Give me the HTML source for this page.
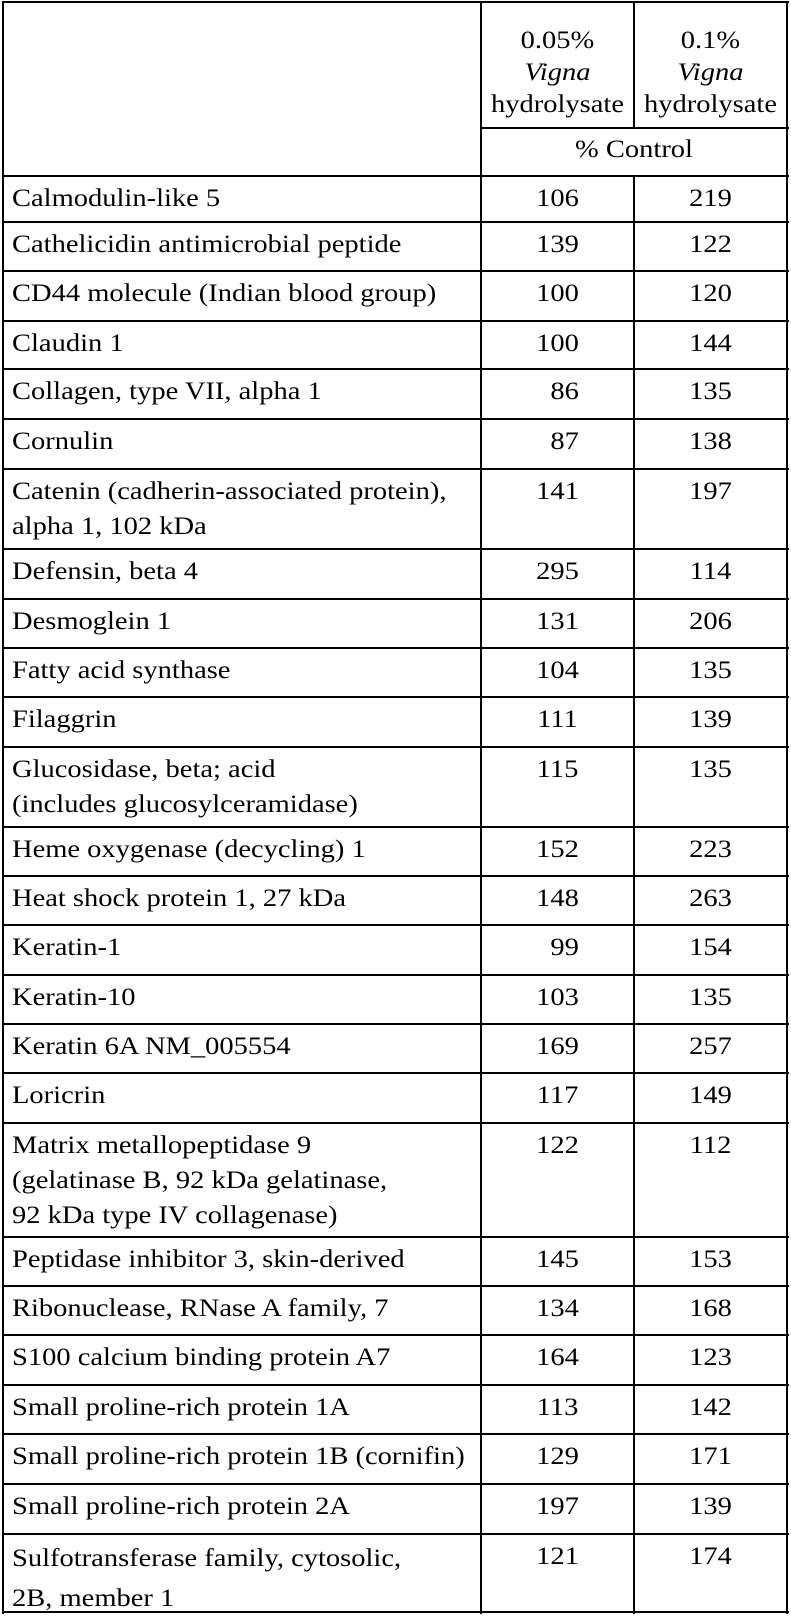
<!DOCTYPE html>
<html><head><meta charset="utf-8"><style>
html,body{margin:0;padding:0;background:#fff;}
#c{position:relative;width:791px;height:1616px;overflow:hidden;font-family:"Liberation Serif",serif;font-size:25px;color:#000;}
.h{position:absolute;height:2px;background:#000;}
.v{position:absolute;width:2px;background:#000;}
.n{position:absolute;left:12px;line-height:35px;white-space:nowrap;transform:scaleX(1.14);transform-origin:left top;}
.a{position:absolute;width:153px;text-align:center;line-height:35px;transform:scaleX(1.14);transform-origin:center top;}
.hd{position:absolute;width:153px;text-align:center;line-height:32px;transform:scaleX(1.14);transform-origin:center top;}
</style></head><body><div id="c">
<div class="h" style="left:2px;width:787px;top:1px"></div>
<div class="h" style="left:481px;width:308px;top:127px"></div>
<div class="h" style="left:2px;width:787px;top:175px"></div>
<div class="v" style="left:2px;top:1px;height:1613px"></div>
<div class="v" style="left:786px;top:1px;height:1613px"></div>
<div class="v" style="left:480px;top:1px;height:1613px"></div>
<div class="v" style="left:633px;top:1px;height:127px"></div>
<div class="v" style="left:633px;top:175px;height:1439px"></div>
<div class="h" style="left:2px;width:787px;top:1611px"></div>
<div class="hd" style="left:481px;top:25px">0.05%<br><i>Vigna</i><br>hydrolysate</div>
<div class="hd" style="left:634px;top:25px">0.1%<br><i>Vigna</i><br>hydrolysate</div>
<div class="hd" style="left:481px;width:306px;top:134px">% Control</div>
<div id="rows"></div>
<script>
var R=[[176,"Calmodulin-like 5","106","219"],[222,"Cathelicidin antimicrobial peptide","139","122"],[271,"CD44 molecule (Indian blood group)","100","120"],[321,"Claudin 1","100","144"],[369,"Collagen, type VII, alpha 1","\u200786","135"],[419,"Cornulin","\u200787","138"],[469,"Catenin (cadherin-associated protein),<br>alpha 1, 102 kDa","141","197"],[549,"Defensin, beta 4","295","114"],[599,"Desmoglein 1","131","206"],[648,"Fatty acid synthase","104","135"],[697,"Filaggrin","111","139"],[747,"Glucosidase, beta; acid<br>(includes glucosylceramidase)","115","135"],[827,"Heme oxygenase (decycling) 1","152","223"],[876,"Heat shock protein 1, 27 kDa","148","263"],[925,"Keratin-1","\u200799","154"],[975,"Keratin-10","103","135"],[1024,"Keratin 6A NM_005554","169","257"],[1073,"Loricrin","117","149"],[1123,"Matrix metallopeptidase 9<br>(gelatinase B, 92 kDa gelatinase,<br>92 kDa type IV collagenase)","122","112"],[1237,"Peptidase inhibitor 3, skin-derived","145","153"],[1286,"Ribonuclease, RNase A family, 7","134","168"],[1335,"S100 calcium binding protein A7","164","123"],[1385,"Small proline-rich protein 1A","113","142"],[1434,"Small proline-rich protein 1B (cornifin)","129","171"],[1484,"Small proline-rich protein 2A","197","139"],[1534,"Sulfotransferase family, cytosolic,<br>2B, member 1","121","174"]];
var h="";
R.forEach(function(r,i){var t=r[0];
if(i>0)h+='<div class="h" style="left:2px;width:787px;top:'+(t-1)+'px"></div>';
var lh=(i==R.length-1)?'line-height:40px;':'';
h+='<div class="n" style="top:'+(t+5)+'px;'+lh+'">'+r[1]+'</div>';
h+='<div class="a" style="left:481px;top:'+(t+5)+'px">'+r[2]+'</div>';
h+='<div class="a" style="left:634px;top:'+(t+5)+'px">'+r[3]+'</div>';});
document.getElementById("rows").innerHTML=h;
</script>
</div></body></html>
